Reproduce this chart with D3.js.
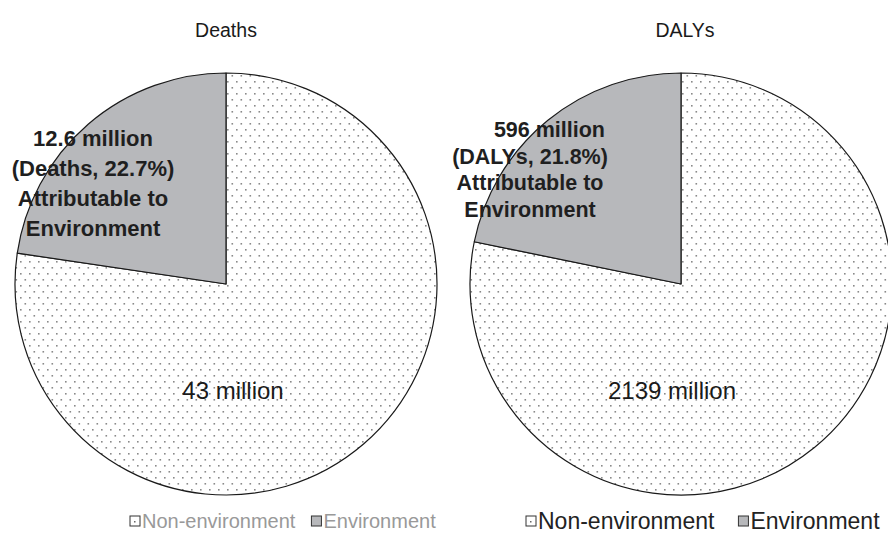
<!DOCTYPE html>
<html>
<head>
<meta charset="utf-8">
<script src="https://cdn.jsdelivr.net/npm/d3@7"></script>
<style>
  html, body { margin: 0; padding: 0; background: #fff; }
  svg { display: block; font-family: "Liberation Sans", Arial, Helvetica, sans-serif; }
</style>
</head>
<body>
<svg id="chart" width="888" height="547"></svg>
<script>
// Burden of disease split into environmental and non-environmental shares
const measures = ["Deaths", "DALYs"];
const categories = ["Non-environment", "Environment"];
const deathsValues = [43, 12.6];       // million
const dalysValues = [2139, 596];       // million
const envShares = [22.7, 21.8];        // percent attributable to environment

const svg = d3.select("#chart");

// dotted fill for the non-environmental share
const defs = svg.append("defs");
const pat = defs.append("pattern")
  .attr("id", "dots")
  .attr("patternUnits", "userSpaceOnUse")
  .attr("width", 9).attr("height", 12);
pat.append("rect").attr("width", 9).attr("height", 12).attr("fill", "#fff");
pat.append("rect").attr("x", 1).attr("y", 1).attr("width", 1.6).attr("height", 1.6).attr("fill", "#8a8a8a");
pat.append("rect").attr("x", 5.5).attr("y", 7).attr("width", 1.6).attr("height", 1.6).attr("fill", "#8a8a8a");

const fills = d3.scaleOrdinal().domain(categories).range(["url(#dots)", "#b7b8bb"]);

const radius = 211;
const centers = d3.scalePoint().domain(measures).range([226, 681]);
const cy = 284;

const pie = d3.pie().sort(null).value(d => d.value);
const arc = d3.arc().innerRadius(0).outerRadius(radius);

const panels = [
  { name: "Deaths", values: deathsValues, share: envShares[0], unit: "Deaths",
    legendColor: "#999", legendSize: 20, legendX: 130, legendGap: 16,
    amountX: 7, envFont: 22, envLine: 30, envX: -133, envY: -138,
    firstAnchor: "middle", firstX: -133 },
  { name: "DALYs", values: dalysValues, share: envShares[1], unit: "DALYs",
    legendColor: "#222", legendSize: 23, legendX: 526, legendGap: 24,
    amountX: -9, envFont: 21.5, envLine: 26.5, envX: -151, envY: -147,
    firstAnchor: "end", firstX: -76 }
];

panels.forEach(p => {
  const cx = centers(p.name);
  const data = categories.map((c, i) => ({ cat: c, value: p.values[i] }));
  const arcs = pie(data);

  const g = svg.append("g").attr("transform", `translate(${cx},${cy})`);
  g.selectAll("path")
    .data(arcs)
    .join("path")
    .attr("d", arc)
    .attr("fill", d => fills(d.data.cat))
    .attr("stroke", "#1a1a1a")
    .attr("stroke-width", 1.2)
    .attr("stroke-linejoin", "round");

  // title
  svg.append("text")
    .attr("x", cx + (p.name === "DALYs" ? 4 : 0)).attr("y", 37)
    .attr("text-anchor", "middle")
    .attr("font-size", 19.5)
    .attr("fill", "#1a1a1a")
    .text(p.name);

  // non-environment amount
  g.append("text")
    .attr("x", p.amountX).attr("y", 115)
    .attr("text-anchor", "middle")
    .attr("font-size", 24)
    .attr("fill", "#1a1a1a")
    .text(`${p.values[0]} million`);

  // environment amount, bold block
  const lines = [
    `${p.values[1]} million`,
    `(${p.unit}, ${p.share}%)`,
    "Attributable to",
    "Environment"
  ];
  const t = g.append("text")
    .attr("font-size", p.envFont)
    .attr("font-weight", "bold")
    .attr("fill", "#1f1f1f");
  t.selectAll("tspan")
    .data(lines)
    .join("tspan")
    .attr("x", (d, i) => i === 0 ? p.firstX : p.envX)
    .attr("y", (d, i) => p.envY + i * p.envLine)
    .attr("text-anchor", (d, i) => i === 0 ? p.firstAnchor : "middle")
    .text(d => d);

  // legend
  const lg = svg.append("g").attr("transform", `translate(${p.legendX},521)`);
  let x = 0;
  categories.forEach((c, i) => {
    const item = lg.append("g").attr("transform", `translate(${x},0)`);
    item.append("rect")
      .attr("x", 0).attr("y", -5).attr("width", 10).attr("height", 10)
      .attr("fill", i === 0 ? "#fff" : "#b7b8bb")
      .attr("stroke", "#333").attr("stroke-width", 1);
    if (i === 0) {
      item.append("rect").attr("x", 4).attr("y", 0).attr("width", 1.5).attr("height", 1.5).attr("fill", "#666");
    }
    const txt = item.append("text")
      .attr("x", 12).attr("y", 0)
      .attr("dy", "0.36em")
      .attr("font-size", p.legendSize)
      .attr("font-family", "'Liberation Sans Narrow', 'Arial Narrow', 'Liberation Sans', sans-serif")
      .attr("fill", p.legendColor)
      .text(c);
    x += 12 + txt.node().getComputedTextLength() + p.legendGap;
  });
});
</script>
</body>
</html>
